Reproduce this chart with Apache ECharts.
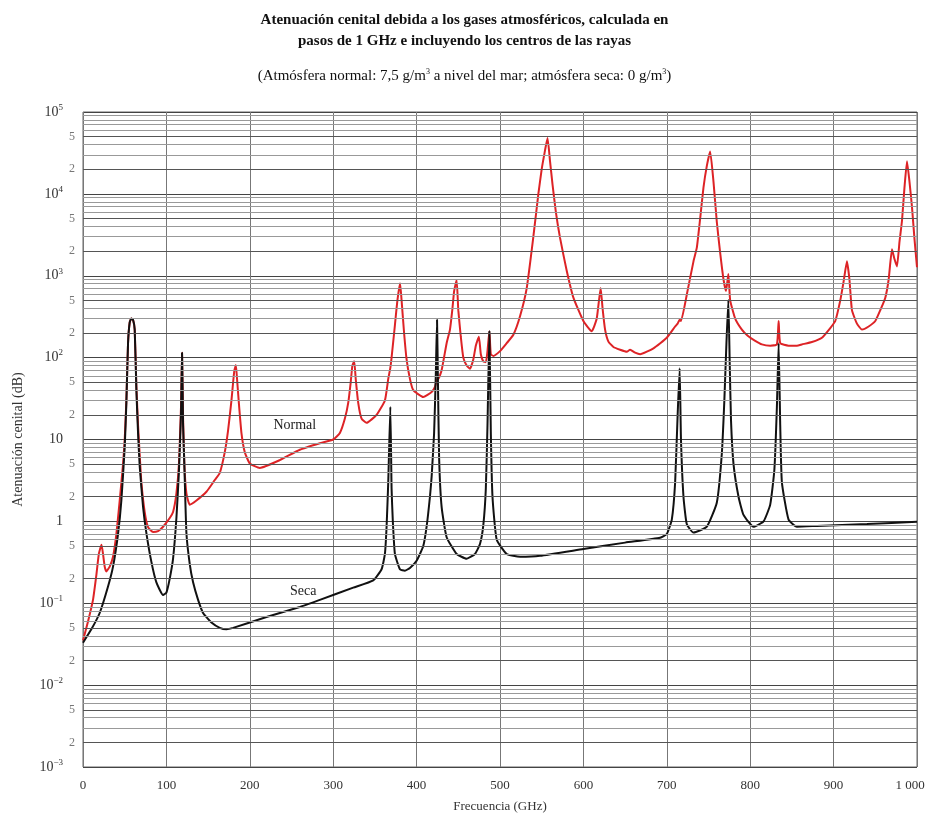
<!DOCTYPE html>
<html>
<head>
<meta charset="utf-8">
<script src="https://cdn.jsdelivr.net/npm/echarts@6/dist/echarts.min.js"></script>
<style>
  html, body { margin: 0; padding: 0; background: #fff; overflow: hidden; }
  #chart { width: 100vw; height: 100vh; }
</style>
</head>
<body>
<div id="chart"></div>
<script>
// atmósfera seca (0 g/m3)
const freqSeca = [0, 10, 20, 30, 36, 42, 46, 50, 52, 54, 56, 58, 60, 62, 64, 66, 68, 72, 76, 82, 88, 96, 100, 104, 108, 112, 115, 117.5, 118.75, 120, 121.5, 124, 128, 132, 138, 144, 154, 164, 172, 180, 220, 260, 284, 324, 348, 358, 362, 364, 366, 368.5, 370, 371.5, 374, 380, 386, 392, 400, 408, 412, 416, 418, 421, 423, 424.5, 425.5, 427, 430, 436, 448, 460, 470, 476, 480, 483, 485, 487.25, 489, 491, 496, 508, 524, 548, 600, 650, 692, 700, 706, 710, 713, 715.4, 717, 720, 724, 732, 748, 760, 766, 769, 771.5, 773.8, 775.5, 777, 780, 786, 792, 804, 816, 824, 829, 832, 834.1, 836, 838, 846, 856, 880, 940, 1000];
const seca = [0.033, 0.048, 0.076, 0.16, 0.28, 0.7, 1.8, 8, 28, 150, 270, 300, 290, 220, 40, 12, 4.7, 1.5, 0.72, 0.32, 0.18, 0.126, 0.135, 0.2, 0.35, 1.1, 4, 20, 115, 15, 5, 0.72, 0.3, 0.18, 0.11, 0.076, 0.058, 0.05, 0.048, 0.05, 0.068, 0.09, 0.11, 0.155, 0.19, 0.26, 0.4, 0.86, 3, 25, 2.5, 1.0, 0.4, 0.26, 0.25, 0.27, 0.33, 0.5, 0.86, 2, 3.5, 12, 60, 290, 60, 6, 1.5, 0.64, 0.4, 0.35, 0.4, 0.53, 0.9, 2.5, 15, 210, 12, 2, 0.6, 0.4, 0.37, 0.38, 0.46, 0.55, 0.63, 0.7, 1.05, 3, 20, 74, 10, 2, 0.92, 0.73, 0.86, 1.7, 6.8, 30, 150, 510, 80, 17, 5, 2, 1.2, 0.86, 1.0, 1.6, 4.3, 25, 150, 15, 3, 1.05, 0.86, 0.88, 0.93, 0.99];

// atmósfera normal (7,5 g/m3)
const freqNormal = [0, 6, 12, 16, 19, 22.2, 24, 26, 28, 32, 36, 40, 44, 48, 50, 52, 54, 56, 58, 60, 62, 64, 66, 68, 70, 74, 78, 84, 90, 96, 104, 108, 112, 115, 117.5, 118.75, 120, 121.5, 124, 128, 136, 148, 158, 164, 170, 174, 178, 180, 181.5, 183.3, 185, 187, 190, 194, 200, 212, 236, 260, 284, 300, 308, 314, 318, 321, 323, 325.2, 327, 330, 334, 340, 352, 362, 366, 368.5, 370, 374, 377, 380.2, 382, 385, 388, 392, 396, 408, 418, 422, 424.8, 426, 430, 436, 440, 443, 445, 448, 450, 453, 456, 460, 464, 468, 471, 474.7, 477, 480, 483, 485, 487.25, 489, 492, 500, 508, 516, 524, 532, 540, 546, 550, 553, 557, 560, 563, 567, 572, 580, 588, 600, 610, 616, 620.7, 623, 626, 630, 636, 644, 652, 656, 662, 668, 684, 700, 710, 713, 715.4, 717, 724, 732, 736, 740, 744, 748, 752, 756, 760, 764, 768, 771, 773.8, 776, 782, 790, 797, 806, 814, 824, 832, 834.1, 836, 846, 856, 862, 874, 886, 896, 902, 908, 912, 916, 919, 922, 928, 934, 942, 950, 956, 962, 966, 970, 973, 976, 979, 982, 985, 988, 991, 994, 997, 1000];
const normal = [0.035, 0.06, 0.11, 0.22, 0.4, 0.52, 0.4, 0.28, 0.245, 0.28, 0.37, 0.7, 1.8, 5, 10, 30, 150, 270, 300, 290, 220, 45, 15, 6.5, 3, 1.3, 0.85, 0.74, 0.76, 0.86, 1.1, 1.3, 2.2, 5, 25, 115, 18, 5, 2.2, 1.6, 1.8, 2.3, 3.2, 3.9, 7, 13, 30, 50, 70, 81, 50, 27, 12, 7, 5.1, 4.5, 5.6, 7.5, 9, 10, 12, 18, 28, 50, 80, 90, 55, 28, 18, 16, 20, 30, 55, 75, 100, 250, 500, 810, 500, 200, 95, 55, 40, 33, 38, 44, 55, 55, 70, 150, 220, 400, 650, 890, 380, 180, 100, 80, 73, 95, 140, 180, 110, 90, 88, 120, 210, 110, 105, 120, 150, 190, 320, 700, 3000, 10000, 20000, 30000, 48000, 25000, 13000, 6000, 2900, 1150, 540, 280, 210, 300, 710, 400, 220, 157, 135, 125, 118, 125, 115, 110, 130, 175, 240, 260, 290, 280, 590, 1500, 2200, 5000, 12000, 22000, 33000, 14000, 4500, 1900, 900, 650, 1050, 500, 300, 220, 185, 160, 145, 140, 145, 280, 150, 140, 140, 145, 155, 175, 230, 280, 500, 850, 1500, 900, 380, 260, 220, 240, 280, 380, 540, 900, 2100, 1600, 1300, 2600, 4700, 12000, 25000, 14000, 6900, 2800, 1270];

// rejilla logarítmica: décadas y subdivisiones
const decadeExponents = [-3, -2, -1, 0, 1, 2, 3, 4, 5];
const minorSteps = [2, 3, 4, 5, 6, 7, 8, 9];
const labelledSteps = [2, 5];
const xRange = [0, 1000];

const serif = '"Liberation Serif", "DejaVu Serif", serif';

const minorLines = [];
decadeExponents.slice(0, -1).forEach(e => {
  minorSteps.forEach(m => {
    const lab = labelledSteps.indexOf(m) >= 0;
    minorLines.push({
      yAxis: m * Math.pow(10, e),
      lineStyle: { color: lab ? '#555' : '#999', width: 1, type: 'solid' },
      label: { show: lab, formatter: String(m) }
    });
  });
});

const chart = echarts.init(document.getElementById('chart'));
chart.setOption({
  animation: false,
  title: [
    {
      text: 'Atenuación cenital debida a los gases atmosféricos, calculada en\npasos de 1 GHz e incluyendo los centros de las rayas',
      left: 'center',
      top: 5,
      textStyle: { fontFamily: serif, fontSize: 15, fontWeight: 'bold', color: '#111', lineHeight: 21 }
    },
    {
      text: '(Atmósfera normal: 7,5 g/m{sup|3} a nivel del mar; atmósfera seca: 0 g/m{sup|3})',
      left: 'center',
      top: 63,
      textStyle: {
        fontFamily: serif, fontSize: 15, fontWeight: 'normal', color: '#111',
        rich: { sup: { fontFamily: serif, fontSize: 8, color: '#111', padding: [0, 0, 8, 0] } }
      }
    }
  ],
  grid: {
    left: 83, right: 12, top: 112, bottom: 51,
    outerBoundsMode: 'none',
    show: true, borderColor: '#666', borderWidth: 1
  },
  xAxis: {
    type: 'value',
    min: xRange[0],
    max: xRange[1],
    interval: 100,
    name: 'Frecuencia (GHz)',
    nameLocation: 'middle',
    nameGap: 33,
    nameTextStyle: { fontFamily: serif, fontSize: 13, color: '#333' },
    axisLine: { show: false },
    axisTick: { show: false },
    axisLabel: {
      margin: 12,
      fontFamily: serif,
      fontSize: 13,
      color: '#333',
      // el último rótulo se desplaza a la izquierda para que quepa
      formatter: v => (v === 1000 ? '{last|1 000}' : String(v)),
      rich: { last: { fontFamily: serif, fontSize: 13, color: '#333', padding: [0, 14, 0, 0] } }
    },
    splitLine: { show: true, lineStyle: { color: '#777', width: 1 } }
  },
  yAxis: {
    type: 'log',
    logBase: 10,
    min: 0.001,
    max: 100000,
    interval: 1,
    splitNumber: 8,
    name: 'Atenuación cenital (dB)',
    nameLocation: 'middle',
    nameGap: 58,
    nameTextStyle: { fontFamily: serif, fontSize: 14, color: '#333' },
    axisLine: { show: false },
    axisTick: { show: false },
    axisLabel: {
      margin: 20,
      fontFamily: serif,
      fontSize: 14,
      color: '#333',
      formatter: v => {
        const e = Math.round(Math.log10(v));
        if (e === 0) return '1';
        if (e === 1) return '10';
        return '10{sup|' + String(e).replace('-', '\u2212') + '}';
      },
      rich: { sup: { fontFamily: serif, fontSize: 9, color: '#333', padding: [0, 0, 9, 0] } }
    },
    splitLine: { show: true, lineStyle: { color: '#444', width: 1 } }
  },
  series: [
    {
      // serie auxiliar que sólo lleva la rejilla menor (cubre todo el eje y)
      name: 'rejilla',
      type: 'line',
      data: [[xRange[0], 0.001], [xRange[1], 100000]],
      showSymbol: false,
      silent: true,
      lineStyle: { width: 0, opacity: 0 },
      z: 1,
      markLine: {
        silent: true,
        symbol: 'none',
        precision: 6,
        animation: false,
        label: { position: 'start', distance: 8, fontFamily: serif, fontSize: 12, color: '#777' },
        data: minorLines
      }
    },
    {
      name: 'Normal',
      type: 'line',
      data: freqNormal.map((f, i) => [f, normal[i]]),
      showSymbol: false,
      smooth: 0.15,
      lineStyle: { color: '#dd2326', width: 2 },
      z: 3,
      markPoint: {
        symbol: 'circle',
        symbolSize: 0,
        label: { show: true, position: 'inside', fontFamily: serif, fontSize: 14, color: '#222', formatter: '{b}' },
        data: [{ name: 'Normal', coord: [254, 14.7] }]
      }
    },
    {
      name: 'Seca',
      type: 'line',
      data: freqSeca.map((f, i) => [f, seca[i]]),
      showSymbol: false,
      smooth: 0.15,
      lineStyle: { color: '#111', width: 2 },
      z: 4,
      markPoint: {
        symbol: 'circle',
        symbolSize: 0,
        label: { show: true, position: 'inside', fontFamily: serif, fontSize: 14, color: '#222', formatter: '{b}' },
        data: [{ name: 'Seca', coord: [264, 0.141] }]
      }
    }
  ]
});
</script>
</body>
</html>
